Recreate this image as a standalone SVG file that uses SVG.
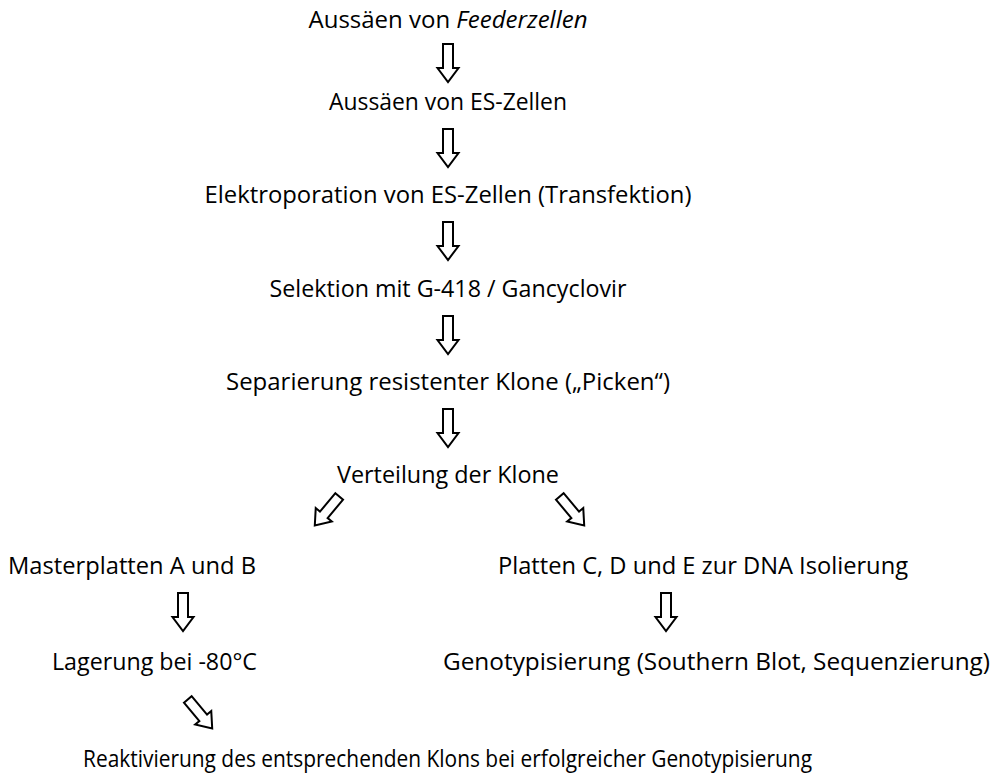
<svg xmlns="http://www.w3.org/2000/svg" xmlns:xlink="http://www.w3.org/1999/xlink" width="995" height="778" viewBox="0 0 995 778">
<style>
.t{font-family:"Open Sans","Noto Sans","Liberation Sans",sans-serif;font-size:24px;fill:#000}
.c{text-anchor:middle}
.ar{fill:#fff;stroke:#000;stroke-width:2;stroke-linejoin:miter}
</style>
<defs>
<path id="da" class="ar" d="M-5,0 H5 V24 H10.5 L0,38 L-10.5,24 H-5 Z"/>
</defs>
<rect width="995" height="778" fill="#fff"/>
<g id="connectors">
<use xlink:href="#da" href="#da" x="448" y="44"/>
<use xlink:href="#da" href="#da" x="448" y="129"/>
<use xlink:href="#da" href="#da" x="448" y="222"/>
<use xlink:href="#da" href="#da" x="448" y="316"/>
<use xlink:href="#da" href="#da" x="448" y="409"/>
<use xlink:href="#da" href="#da" transform="translate(327,511) rotate(40) translate(0,-19)"/>
<use xlink:href="#da" href="#da" transform="translate(572,511) rotate(-40) translate(0,-19)"/>
<use xlink:href="#da" href="#da" x="183" y="593"/>
<use xlink:href="#da" href="#da" x="666" y="593"/>
<use xlink:href="#da" href="#da" transform="translate(200,714) rotate(-40) translate(0,-19)"/>
</g>
<g id="n1"><text class="t c" x="448" y="28" textLength="279" lengthAdjust="spacingAndGlyphs">Aussäen von <tspan font-style="italic">Feederzellen</tspan></text></g>
<g id="n2"><text class="t c" x="448" y="110" textLength="238" lengthAdjust="spacingAndGlyphs">Aussäen von ES-Zellen</text></g>
<g id="n3"><text class="t c" x="448" y="203" textLength="487" lengthAdjust="spacingAndGlyphs">Elektroporation von ES-Zellen (Transfektion)</text></g>
<g id="n4"><text class="t c" x="448" y="297" textLength="357" lengthAdjust="spacingAndGlyphs">Selektion mit G-418 / Gancyclovir</text></g>
<g id="n5"><text class="t c" x="448" y="390" textLength="444" lengthAdjust="spacingAndGlyphs">Separierung resistenter Klone („Picken“)</text></g>
<g id="n6"><text class="t c" x="448" y="483" textLength="222" lengthAdjust="spacingAndGlyphs">Verteilung der Klone</text></g>
<g id="n7"><text class="t" x="8" y="574" textLength="248" lengthAdjust="spacingAndGlyphs">Masterplatten A und B</text></g>
<g id="n8"><text class="t" x="498" y="574" textLength="410" lengthAdjust="spacingAndGlyphs">Platten C, D und E zur DNA Isolierung</text></g>
<g id="n9"><text class="t" x="52" y="670" textLength="205" lengthAdjust="spacingAndGlyphs">Lagerung bei -80°C</text></g>
<g id="n10"><text class="t" x="443" y="670" textLength="547" lengthAdjust="spacingAndGlyphs">Genotypisierung (Southern Blot, Sequenzierung)</text></g>
<g id="n11"><text class="t" x="83" y="767" textLength="729" lengthAdjust="spacingAndGlyphs">Reaktivierung des entsprechenden Klons bei erfolgreicher Genotypisierung</text></g>
</svg>
